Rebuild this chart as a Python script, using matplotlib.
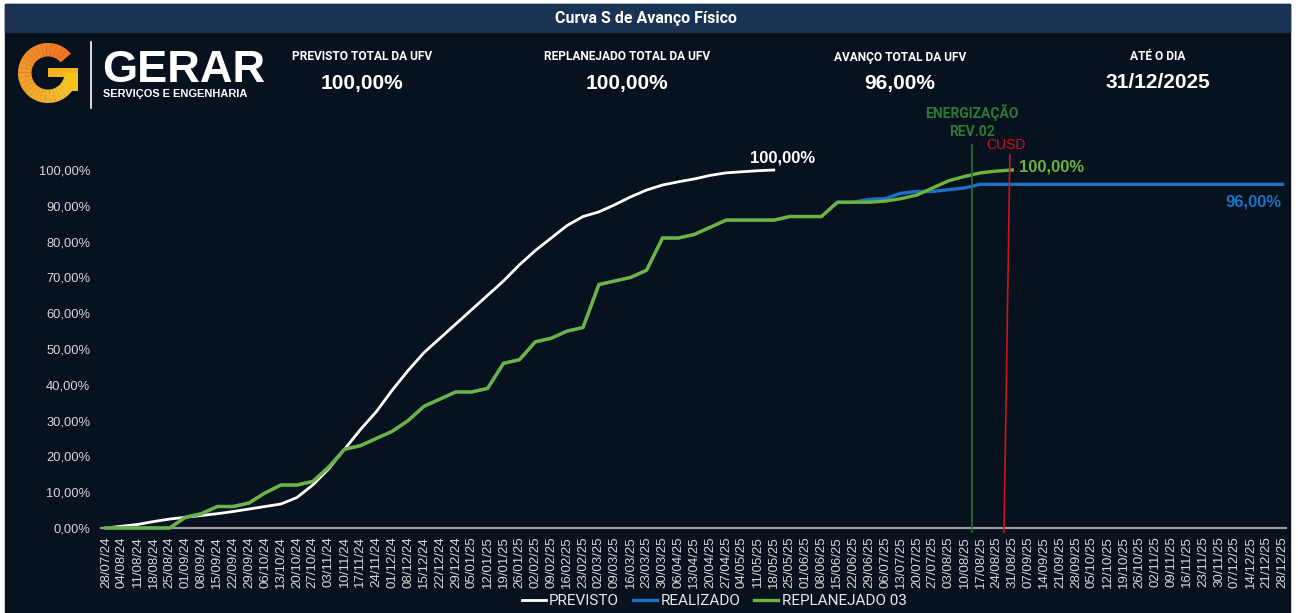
import pandas as pd
import matplotlib.pyplot as plt
from matplotlib.patches import Rectangle, Wedge

# semanas (eixo x)
datas = pd.date_range('2024-07-28', '2025-12-28', freq='7D').strftime('%d/%m/%y').tolist()

previsto = [0, 0.5, 1.0, 1.8, 2.5, 3.0, 3.5, 4.0, 4.6, 5.3, 6.0, 6.7, 8.5, 12, 16.5,
            22, 27.5, 32.5, 38.5, 44, 49, 53, 57, 61, 65, 69, 73.5, 77.5, 81, 84.5,
            87, 88.3, 90.3, 92.5, 94.4, 95.8, 96.7, 97.5, 98.5, 99.2, 99.5, 99.8, 100]

realizado = [0, 0, 0, 0, 0, 3, 4, 6, 6, 7, 9.8, 12, 12, 13, 17,
             22, 23, 25, 27, 30, 34, 36, 38, 38, 39, 46, 47, 52, 53, 55,
             56, 68, 69, 70, 72, 81, 81, 82, 84, 86, 86, 86, 86, 87, 87,
             87, 91, 91, 91.8, 92, 93.5, 94, 94, 94.5, 95, 96, 96, 96, 96, 96,
             96, 96, 96, 96, 96, 96, 96, 96, 96, 96, 96, 96, 96, 96, 96]

replanejado = [0, 0, 0, 0, 0, 3, 4, 6, 6, 7, 9.8, 12, 12, 13, 17,
               22, 23, 25, 27, 30, 34, 36, 38, 38, 39, 46, 47, 52, 53, 55,
               56, 68, 69, 70, 72, 81, 81, 82, 84, 86, 86, 86, 86, 87, 87,
               87, 91, 91, 91, 91.3, 92, 93, 95, 97, 98.2, 99.2, 99.7, 100]

yticks = [0, 10, 20, 30, 40, 50, 60, 70, 80, 90, 100]

BG = '#07121e'
BRANCO = '#ffffff'
AZUL = '#1a72c6'
VERDE = '#6db33f'
COND = 'Roboto'

fig = plt.figure(figsize=(12.98, 6.13), dpi=100)
fig.patch.set_facecolor('white')
W, H = 1298, 613

def fx(px):
    return px / W

def fy(py):
    return 1 - py / H

# fundo do painel e barra de título
fig.patches.append(Rectangle((fx(5), 0), fx(1285), fy(4), transform=fig.transFigure,
                             color=BG, zorder=-10))
fig.patches.append(Rectangle((fx(5), fy(32)), fx(1285), 28 / H, transform=fig.transFigure,
                             color='#1b3352', zorder=-9))
fig.text(fx(646), fy(18), 'Curva S de Avanço Físico', color='white', fontsize=11.5,
         fontweight='bold', family='Roboto', ha='center', va='center')

# logo
lax = fig.add_axes([fx(15), fy(106), fx(66), 66 / H])
lax.set_xlim(-1.1, 1.1)
lax.set_ylim(-1.1, 1.1)
lax.set_aspect('equal')
lax.axis('off')
n = 30
for k in range(n):
    a0 = 40 + k * (320 / n)
    t = k / (n - 1)
    cor = (0.95, 0.45 + 0.35 * t, 0.15 + 0.05 * t)
    lax.add_patch(Wedge((0, 0), 1.0, a0, a0 + 320 / n + 0.5, width=0.45, color=cor, lw=0))
lax.add_patch(Rectangle((0.0, -0.12), 1.0, 0.3, color='#f4b323', lw=0))
lax.add_patch(Rectangle((0.55, -0.6), 0.45, 0.6, color='#f6c21c', lw=0))

fig.lines.append(plt.Line2D([fx(91), fx(91)], [fy(42), fy(108)], transform=fig.transFigure,
                            color='white', lw=1.2))
fig.text(fx(102), fy(70), 'GERAR', color='white', fontsize=32.5, fontweight='bold',
         family='Liberation Sans', ha='left', va='center')
fig.text(fx(103), fy(94), 'SERVIÇOS E ENGENHARIA', color='white', fontsize=7.9,
         fontweight='bold', family='Liberation Sans', ha='left', va='center')

# indicadores do topo
cards = [(362, 'PREVISTO TOTAL DA UFV', '100,00%'),
         (627, 'REPLANEJADO TOTAL DA UFV', '100,00%'),
         (900, 'AVANÇO TOTAL DA UFV', '96,00%'),
         (1158, 'ATÉ O DIA', '31/12/2025')]
for cx, titulo, valor in cards:
    fig.text(fx(cx), fy(57), titulo, color='white', fontsize=8.6, fontweight='bold',
             family=COND, ha='center', va='center')
    fig.text(fx(cx), fy(83), valor, color='white', fontsize=15, fontweight='bold',
             family='Liberation Sans', ha='center', va='center')

# gráfico
ax = fig.add_axes([fx(100), 0.1299, fx(1187), 0.6395])
ax.patch.set_alpha(0)
x = list(range(len(datas)))

ax.plot(x[:len(previsto)], previsto, color=BRANCO, lw=2.0, label='PREVISTO', zorder=3)
ax.plot(x[:len(realizado)], realizado, color=AZUL, lw=2.4, label='REALIZADO', zorder=3)
ax.plot(x[:len(replanejado)], replanejado, color=VERDE, lw=2.4, label='REPLANEJADO 03', zorder=4)
ax.axhline(0, color='#9a9a9a', lw=1.6, zorder=2)

ax.set_xlim(-0.38, 74.28)
ax.set_ylim(-1.5, 108)
ax.set_xticks(x)
ax.set_xticklabels(datas, rotation=90, fontsize=9.5, color='#d8d8d8', family='Liberation Sans')
ax.set_yticks(yticks)
ax.set_yticklabels([f'{v},00%' for v in yticks], fontsize=9.3, color='#d8d8d8',
                   family='Liberation Sans')
ax.tick_params(axis='both', length=0)
ax.tick_params(axis='x', pad=2)
ax.tick_params(axis='y', pad=7)
for s in ax.spines.values():
    s.set_visible(False)

# marcos
ax.plot([54.47, 54.47], [-1.2, 107], color='#2d6e30', lw=1.2, zorder=5, clip_on=False)
ax.plot([56.85, 56.48], [104.2, -1.2], color='#d2101c', lw=1.2, zorder=5, clip_on=False)
ax.text(54.47, 115.9, 'ENERGIZAÇÃO', color='#2f7a33', fontsize=10, fontweight='bold',
        family=COND, ha='center', va='center')
ax.text(54.47, 110.6, 'REV.02', color='#2f7a33', fontsize=10, fontweight='bold',
        family=COND, ha='center', va='center')
ax.text(56.6, 107, 'CUSD', color='#d2101c', fontsize=10, family='Liberation Sans',
        ha='center', va='center')

# rótulos finais
ax.text(40.5, 103.3, '100,00%', color=BRANCO, fontsize=12, fontweight='bold',
        family='Liberation Sans', ha='left', va='center')
ax.text(57.4, 100.8, '100,00%', color=VERDE, fontsize=12, fontweight='bold',
        family='Liberation Sans', ha='left', va='center')
ax.text(73.96, 91.1, '96,00%', color=AZUL, fontsize=12, fontweight='bold',
        family='Liberation Sans', ha='right', va='center')

leg = fig.legend(loc='center', bbox_to_anchor=(fx(714), fy(601)), ncol=3, frameon=False,
                 handlelength=1.6, handletextpad=0.2, columnspacing=0.9,
                 prop={'family': COND, 'size': 11})
for t in leg.get_texts():
    t.set_color('#e8e8e8')

fig.savefig('out.png', dpi=100, facecolor=fig.get_facecolor())
